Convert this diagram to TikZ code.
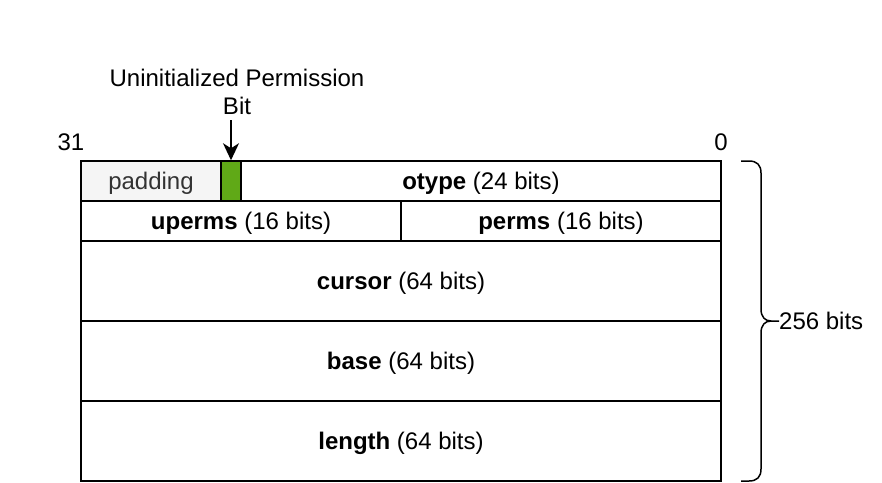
\documentclass[tikz,border=0pt]{standalone}
\usepackage{fontspec}
\setmainfont{Liberation Sans}
\usetikzlibrary{arrows.meta}
\definecolor{padfill}{HTML}{F5F5F5}
\definecolor{padtext}{HTML}{333333}
\definecolor{greenfill}{HTML}{60A917}
\definecolor{greenline}{HTML}{2D7600}
\begin{document}
\begin{tikzpicture}[x=1pt,y=-1pt,
  font=\fontsize{24}{28}\selectfont,
  cell/.style={draw=black, line width=1.5pt, inner sep=0pt, text height=17.5pt, text depth=1pt},
  plain/.style={inner sep=0pt, text height=17.5pt, text depth=1pt}]
\useasboundingbox (0,0) rectangle (882,482);
% row 1
\node[cell, fill=padfill, text=padtext, minimum width=140pt, minimum height=40pt] (pad) at (151,181) {padding};
\node[cell, fill=greenfill, minimum width=20pt, minimum height=40pt] (uinit) at (231,181) {};
\node[cell, minimum width=480pt, minimum height=40pt] (otype) at (481,181) {\textbf{otype} (24 bits)};
% row 2
\node[cell, minimum width=320pt, minimum height=40pt] (uperms) at (241,221) {\textbf{uperms} (16 bits)};
\node[cell, minimum width=320pt, minimum height=40pt] (perms) at (561,221) {\textbf{perms} (16 bits)};
% rows 3-5
\node[cell, minimum width=640pt, minimum height=80pt] (cursor) at (401,281) {\textbf{cursor} (64 bits)};
\node[cell, minimum width=640pt, minimum height=80pt] (base) at (401,361) {\textbf{base} (64 bits)};
\node[cell, minimum width=640pt, minimum height=80pt] (length) at (401,441) {\textbf{length} (64 bits)};
% bit numbers
\node[plain] (b31) at (71,142) {31};
\node[plain] (b0) at (721,142) {0};
% label and arrow
\node[inner sep=0pt, align=center] (ulabel) at (237,92) {Uninitialized Permission\\Bit};
\coordinate (astart) at (231,120);
\draw[line width=1.5pt, -{Stealth[length=17pt,width=16pt,inset=5pt]}] (astart) -- (uinit.north);
% brace
\coordinate (btop) at (741,161);
\coordinate (bbot) at (741,481);
\coordinate (btip) at (779,321);
\draw[line width=1.5pt, line join=round]
  (btop) -- (749,161) .. controls (757,161) and (761,165) .. (761,173)
  -- (761,309) .. controls (761,317) and (765,321) .. (771,321) -- (btip);
\draw[line width=1.5pt, line join=round]
  (bbot) -- (749,481) .. controls (757,481) and (761,477) .. (761,469)
  -- (761,333) .. controls (761,325) and (765,321) .. (771,321);
\node[plain, anchor=west] (btext) at (btip) {256 bits};
\end{tikzpicture}
\end{document}
